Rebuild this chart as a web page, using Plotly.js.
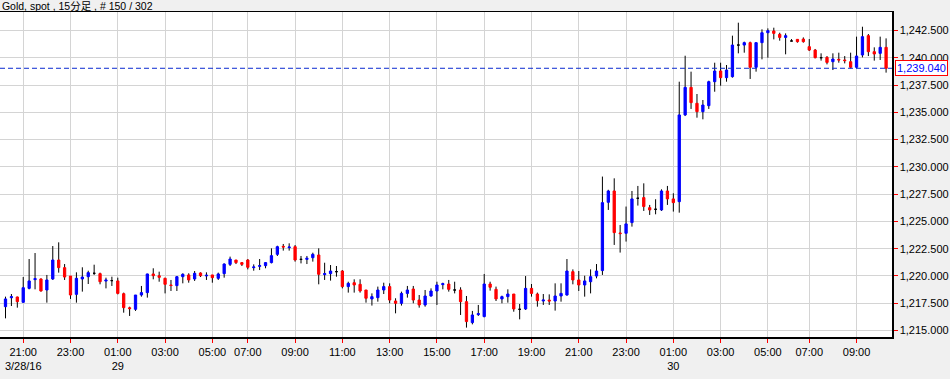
<!DOCTYPE html>
<html>
<head>
<meta charset="utf-8">
<script src="https://cdn.plot.ly/plotly-3.0.1.min.js"></script>
<style>html,body{margin:0;padding:0;background:#f0f0f0;}#chart{width:950px;height:379px;}</style>
</head>
<body>
<div id="chart"></div>
<script>
const chartTitle = "Gold, spot , 15分足 , # 150 / 302";
const tickIndex = [3, 11, 19, 27, 35, 41, 49, 57, 65, 73, 81, 89, 97, 105, 113, 121, 129, 136, 144];
const tickLabels = ["21:00<br>3/28/16", "23:00", "01:00<br>29", "03:00", "05:00", "07:00", "09:00", "11:00", "13:00", "15:00", "17:00", "19:00", "21:00", "23:00", "01:00<br>30", "03:00", "05:00", "07:00", "09:00"];
const yTicks = [1215, 1217.5, 1220, 1222.5, 1225, 1227.5, 1230, 1232.5, 1235, 1237.5, 1240, 1242.5];

const openP = [1217.18,1218.00,1218.07,1217.58,1218.86,1219.66,1219.72,1218.71,1219.72,1221.46,
1220.76,1219.99,1218.31,1219.72,1219.93,1220.24,1220.21,1219.53,1219.57,1219.54,
1218.37,1217.08,1216.94,1218.25,1218.47,1220.18,1220.02,1219.78,1219.17,1219.11,
1219.93,1220.09,1219.72,1220.27,1220.00,1220.09,1219.78,1220.21,1221.06,1221.46,
1221.22,1221.46,1220.76,1220.88,1220.94,1221.22,1221.98,1222.71,1222.59,1222.68,
1221.52,1221.52,1221.67,1221.92,1220.12,1220.21,1220.39,1220.45,1219.02,1219.38,
1219.23,1218.71,1217.89,1218.01,1218.71,1219.02,1217.70,1217.49,1218.40,1218.80,
1217.79,1217.34,1218.16,1218.62,1219.20,1219.26,1218.71,1218.71,1217.64,1215.72,
1216.45,1216.27,1219.26,1218.77,1217.89,1218.10,1218.34,1216.94,1216.97,1218.86,
1218.34,1217.70,1217.79,1217.70,1218.16,1218.25,1220.39,1219.63,1219.17,1219.47,
1219.99,1220.49,1226.75,1227.79,1223.94,1223.91,1224.89,1227.12,1227.18,1226.26,
1226.11,1226.05,1227.79,1227.06,1226.81,1234.76,1237.29,1235.83,1235.06,1235.61,
1237.81,1238.79,1238.18,1238.27,1241.17,1241.17,1241.39,1239.13,1241.39,1242.30,
1242.46,1242.15,1241.87,1241.54,1241.69,1241.72,1241.02,1240.71,1240.01,1240.04,
1239.64,1239.86,1239.80,1239.64,1239.13,1240.26,1242.03,1240.56,1240.41,1240.96];
const highP = [1218.10,1218.34,1218.10,1219.90,1221.55,1222.10,1219.78,1220.09,1222.74,1223.08,
1221.09,1219.99,1220.33,1220.79,1220.48,1221.03,1220.30,1219.84,1219.93,1219.84,
1218.47,1217.18,1218.25,1219.08,1220.20,1220.70,1220.39,1219.84,1219.63,1219.99,
1220.24,1220.24,1220.45,1220.33,1220.33,1220.09,1220.30,1221.15,1221.77,1221.46,
1221.25,1221.55,1221.06,1221.55,1221.25,1222.53,1222.77,1222.93,1222.99,1222.83,
1221.83,1221.83,1222.13,1222.53,1221.21,1221.00,1220.91,1220.54,1219.47,1219.69,
1219.69,1218.71,1218.40,1219.02,1219.38,1219.32,1217.95,1218.56,1219.08,1219.08,
1218.25,1218.71,1218.86,1219.47,1219.38,1219.63,1219.47,1218.96,1218.16,1216.79,
1217.34,1220.18,1219.47,1219.02,1218.19,1218.77,1218.34,1217.43,1219.99,1219.26,
1218.47,1218.34,1218.31,1219.32,1219.32,1221.55,1220.60,1220.45,1220.02,1220.60,
1221.09,1229.11,1227.90,1228.95,1224.67,1226.36,1227.79,1228.25,1228.49,1226.51,
1227.03,1227.94,1228.25,1227.58,1237.81,1240.19,1238.73,1236.68,1236.13,1237.90,
1239.55,1239.55,1239.34,1242.03,1243.22,1241.48,1241.48,1241.40,1242.61,1242.70,
1242.76,1242.30,1242.24,1241.72,1241.70,1241.87,1241.72,1240.81,1240.41,1240.16,
1240.41,1240.47,1240.16,1240.47,1241.94,1242.85,1242.18,1240.96,1241.94,1241.78];
const lowP = [1216.11,1217.24,1217.09,1217.55,1218.77,1218.77,1218.56,1217.55,1219.63,1220.30,
1219.63,1217.89,1217.55,1218.56,1219.26,1220.09,1219.23,1218.86,1219.08,1218.31,
1216.63,1216.33,1216.79,1218.10,1218.01,1219.69,1219.47,1218.40,1218.62,1218.62,
1219.32,1219.38,1219.54,1219.90,1219.63,1219.38,1219.63,1219.84,1220.91,1221.09,
1220.91,1220.60,1220.48,1220.54,1220.70,1221.15,1221.83,1222.32,1222.32,1221.31,
1221.15,1221.09,1221.31,1219.23,1219.63,1219.57,1219.93,1218.86,1218.47,1218.47,
1218.47,1217.55,1217.28,1217.64,1218.34,1217.49,1216.57,1217.28,1218.01,1217.49,
1217.09,1217.18,1218.10,1217.34,1218.77,1218.56,1218.40,1216.42,1215.26,1215.56,
1216.33,1216.21,1218.65,1217.70,1217.49,1217.55,1216.72,1216.02,1216.88,1218.10,
1217.18,1217.34,1217.34,1216.82,1217.64,1218.19,1219.23,1218.62,1218.10,1218.40,
1219.78,1220.09,1226.05,1222.84,1222.14,1223.15,1224.52,1226.45,1225.96,1225.59,
1225.65,1225.96,1226.51,1225.90,1225.80,1234.66,1235.31,1234.51,1234.36,1235.31,
1236.89,1237.44,1237.81,1238.18,1240.41,1240.47,1238.06,1238.73,1239.86,1240.01,
1241.69,1241.57,1240.32,1241.54,1241.39,1241.39,1240.62,1239.95,1239.74,1239.40,
1238.88,1239.55,1239.49,1239.03,1239.03,1240.04,1240.16,1239.74,1239.80,1238.64];
const closeP = [1217.89,1218.10,1217.64,1218.92,1219.54,1219.75,1218.62,1219.63,1221.46,1220.76,
1219.90,1218.25,1219.78,1219.90,1220.30,1220.24,1219.47,1219.62,1219.57,1218.40,
1217.09,1217.00,1218.25,1218.47,1220.18,1220.02,1219.87,1219.23,1219.12,1219.93,
1220.15,1219.63,1220.24,1220.02,1220.06,1219.84,1220.18,1221.09,1221.55,1221.22,
1221.06,1220.79,1220.82,1220.94,1221.22,1221.86,1222.68,1222.65,1222.65,1221.46,
1221.52,1221.62,1221.98,1220.15,1220.21,1220.45,1220.39,1219.02,1219.32,1219.17,
1218.62,1217.95,1218.10,1218.71,1219.02,1217.79,1217.49,1218.40,1218.71,1217.79,
1217.34,1218.16,1218.62,1219.17,1219.29,1218.77,1218.71,1217.64,1215.81,1216.42,
1216.54,1219.26,1218.96,1217.89,1218.10,1218.34,1216.97,1216.94,1218.86,1218.40,
1217.73,1217.79,1217.70,1218.16,1218.40,1220.45,1219.63,1219.17,1219.54,1219.93,
1220.45,1226.72,1227.79,1223.97,1223.88,1224.77,1227.06,1227.12,1226.36,1226.05,
1226.11,1227.79,1227.06,1226.72,1234.76,1237.29,1235.89,1235.06,1235.67,1237.81,
1238.79,1238.18,1238.88,1241.17,1241.17,1241.39,1239.13,1241.39,1242.30,1242.49,
1242.24,1241.87,1242.03,1241.54,1241.48,1241.48,1240.71,1240.01,1240.01,1239.58,
1239.89,1239.80,1239.74,1239.13,1240.16,1241.94,1240.56,1240.35,1240.96,1239.04];

const idx = openP.map((_, i) => i);
const lastPrice = closeP[closeP.length - 1];
const yRange = [1214.40, 1244.20];

// wicks (drawn on the base subplot, bodies on an overlaid subplot above them)
const wx = [], wy = [];
idx.forEach(i => { wx.push(i, i, null); wy.push(lowP[i], highP[i], null); });

function bodyTrace(filter, upColor, downColor) {
  const ids = idx.filter(filter);
  return {
    type: 'candlestick',
    xaxis: 'x', yaxis: 'y2',
    x: ids,
    open: ids.map(i => openP[i]),
    close: ids.map(i => closeP[i]),
    high: ids.map(i => Math.max(openP[i], closeP[i])),
    low: ids.map(i => Math.min(openP[i], closeP[i])),
    increasing: {line: {color: upColor, width: 1}, fillcolor: upColor},
    decreasing: {line: {color: downColor, width: 1}, fillcolor: downColor},
    whiskerwidth: 0,
    hoverinfo: 'skip',
    showlegend: false
  };
}

const traces = [
  {type: 'scatter', mode: 'lines', x: wx, y: wy, line: {color: '#000000', width: 1}, hoverinfo: 'skip', showlegend: false, connectgaps: false},
  bodyTrace(i => closeP[i] !== openP[i], '#0000ff', '#ff0000'),
  bodyTrace(i => closeP[i] === openP[i], '#000000', '#000000')
];

const fontFam = 'Liberation Sans, Arial, Noto Sans CJK JP, sans-serif';

const layout = {
  width: 950, height: 379,
  margin: {l: 0, r: 58, t: 12, b: 42, pad: 0},
  paper_bgcolor: '#f0f0f0',
  plot_bgcolor: '#ffffff',
  showlegend: false,
  boxgap: 0.45,
  title: {text: chartTitle, x: 0.002, xref: 'container', xanchor: 'left', y: 1 - 6.5/379, yref: 'container', yanchor: 'middle', font: {family: fontFam, size: 10.5, color: '#000000'}},
  xaxis: {
    range: [-0.93, 150.0],
    tickmode: 'array', tickvals: tickIndex, ticktext: tickLabels,
    ticks: 'outside', ticklen: 4, tickcolor: '#ff0000', tickwidth: 1,
    showgrid: true, gridcolor: '#d4d4d4', gridwidth: 1,
    showline: true, linecolor: '#000000', linewidth: 1.5, mirror: true,
    zeroline: false, rangeslider: {visible: false},
    tickfont: {family: fontFam, size: 11, color: '#000000'},
    fixedrange: true
  },
  yaxis: {
    side: 'right',
    range: yRange,
    tickmode: 'array', tickvals: yTicks,
    tickformat: ',.3f',
    ticks: 'outside', ticklen: 4, tickcolor: '#ff0000', tickwidth: 1,
    showgrid: true, gridcolor: '#d4d4d4', gridwidth: 1,
    showline: true, linecolor: '#000000', linewidth: 1.5,
    zeroline: false,
    tickfont: {family: fontFam, size: 11, color: '#000000'},
    fixedrange: true
  },
  yaxis2: {
    overlaying: 'y', side: 'right', range: yRange, visible: false,
    showgrid: false, zeroline: false, fixedrange: true
  },
  shapes: [
    {type: 'line', xref: 'paper', x0: 0, x1: 1, yref: 'y', y0: lastPrice, y1: lastPrice, line: {color: '#0a2ad0', width: 1, dash: '5px,3px'}, layer: 'above'}
  ],
  annotations: [
    {xref: 'paper', x: 1, xanchor: 'left', xshift: 3, yref: 'y', y: lastPrice, yanchor: 'middle',
     text: lastPrice.toLocaleString('en-US', {minimumFractionDigits: 3, maximumFractionDigits: 3}),
     showarrow: false, font: {family: fontFam, size: 11, color: '#0000ff'},
     bgcolor: '#ffffff', bordercolor: '#ff0000', borderwidth: 1, borderpad: 1}
  ]
};

Plotly.newPlot('chart', traces, layout, {displayModeBar: false, staticPlot: true});
</script>
</body>
</html>
